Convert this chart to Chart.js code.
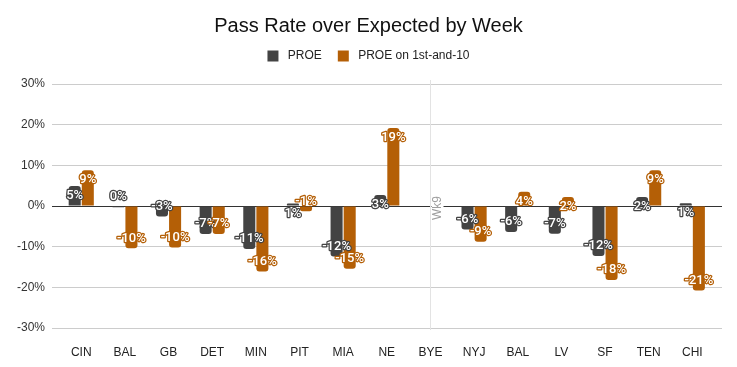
<!DOCTYPE html>
<html>
<head>
<meta charset="utf-8">
<script src="https://cdn.jsdelivr.net/npm/chart.js@4/dist/chart.umd.min.js"></script>
<style>
  html, body { margin: 0; padding: 0; background: #fff; }
  #wrap { width: 737px; height: 367px; }
</style>
</head>
<body>
<div id="wrap"><canvas id="chartProe"></canvas></div>
<script>
// weeks (opponent), BYE has no values
var weeks = ['CIN', 'BAL', 'GB', 'DET', 'MIN', 'PIT', 'MIA', 'NE', 'BYE', 'NYJ', 'BAL', 'LV', 'SF', 'TEN', 'CHI'];
var proe = [4.9, -0.3, -2.6, -6.9, -10.6, 0.6, -12.4, 2.7, null, -5.8, -6.4, -6.8, -12.3, 2.2, 0.7];
var proeFirstTen = [8.8, -10.4, -10.2, -6.9, -16.1, -1.3, -15.4, 19.2, null, -8.8, 3.5, 2.2, -18.2, 8.8, -20.8];
var yTicks = [-30, -20, -10, 0, 10, 20, 30];
var byeIndex = 8;
var byeText = 'Wk9';

var darkColor = '#434343';
var orangeColor = '#b45f06';
var font = '"Liberation Sans", Arial, sans-serif';

function points(arr) {
    return arr.map(function(v, i) { return { x: i, y: v }; });
}

// value labels drawn at the inner end of each bar
var barLabels = {
    id: 'barLabels',
    afterDatasetsDraw: function(chart) {
        var ctx = chart.ctx;
        ctx.save();
        ctx.font = '500 13px Roboto, sans-serif';
        ctx.textAlign = 'center';
        ctx.textBaseline = 'middle';
        ctx.lineJoin = 'round';
        chart.data.datasets.forEach(function(ds, di) {
            var meta = chart.getDatasetMeta(di);
            meta.data.forEach(function(bar, i) {
                var v = ds.data[i].y;
                if (v === null) return;
                var txt = Math.round(v) + '%';
                var y = v >= 0 ? bar.y + 10 : bar.y - 10;
                ctx.lineWidth = 2.5;
                ctx.strokeStyle = ds.backgroundColor;
                ctx.strokeText(txt, bar.x, y);
                ctx.fillStyle = '#ffffff';
                ctx.fillText(txt, bar.x, y);
            });
        });
        ctx.restore();
    }
};

// bye week marker line with rotated text
var byeMarker = {
    id: 'byeMarker',
    beforeDatasetsDraw: function(chart) {
        var ctx = chart.ctx;
        var x = Math.round(chart.scales.x.getPixelForValue(byeIndex)) + 0.5;
        var y0 = chart.scales.y.getPixelForValue(0);
        ctx.save();
        ctx.strokeStyle = '#e3e3e3';
        ctx.lineWidth = 1;
        ctx.beginPath();
        ctx.moveTo(x, chart.chartArea.top - 4);
        ctx.lineTo(x, chart.chartArea.bottom + 2);
        ctx.stroke();
        ctx.translate(x + 7, y0 + 2);
        ctx.rotate(-Math.PI / 2);
        ctx.font = '12px ' + font;
        var w = ctx.measureText(byeText).width;
        ctx.fillStyle = '#ffffff';
        ctx.fillRect(-w / 2 - 2, -6, w + 4, 12);
        ctx.fillStyle = '#9e9e9e';
        ctx.textAlign = 'center';
        ctx.textBaseline = 'middle';
        ctx.fillText(byeText, 0, 0);
        ctx.restore();
    }
};

// extra room under the legend
var legendGap = {
    id: 'legendGap',
    beforeInit: function(chart) {
        var fit = chart.legend.fit;
        chart.legend.fit = function() {
            fit.bind(chart.legend)();
            this.height += 12;
        };
    }
};

function chartProe() {
    var ctx = document.querySelector('#chartProe').getContext('2d');
    var chart = new Chart(ctx, {
        type: 'bar',
        data: {
            datasets: [{
                label: 'PROE',
                backgroundColor: darkColor,
                data: points(proe),
                borderRadius: 3,
                barPercentage: 0.92,
                categoryPercentage: 0.6
            }, {
                label: 'PROE on 1st-and-10',
                backgroundColor: orangeColor,
                data: points(proeFirstTen),
                borderRadius: 3,
                barPercentage: 0.92,
                categoryPercentage: 0.6
            }]
        },
        options: {
            responsive: true,
            maintainAspectRatio: false,
            animation: false,
            layout: { padding: 0 },
            plugins: {
                title: {
                    display: true,
                    text: 'Pass Rate over Expected by Week',
                    color: '#111',
                    font: { family: font, size: 20, weight: 'normal' },
                    padding: { top: 14, bottom: -4 }
                },
                legend: {
                    display: true,
                    labels: {
                        color: '#222',
                        font: { family: font, size: 12 },
                        boxWidth: 11,
                        boxHeight: 11,
                        padding: 16,
                        generateLabels: function(chart) {
                            var items = Chart.defaults.plugins.legend.labels.generateLabels(chart);
                            items.forEach(function(it) { it.text = ' ' + it.text; });
                            return items;
                        }
                    }
                },
                tooltip: { enabled: false }
            },
            scales: {
                x: {
                    type: 'linear',
                    min: -0.67,
                    max: 14.68,
                    offset: false,
                    grid: { display: false },
                    border: { display: false },
                    afterBuildTicks: function(scale) {
                        scale.ticks = weeks.map(function(w, i) { return { value: i }; });
                    },
                    afterFit: function(scale) { scale.height = 39; },
                    ticks: {
                        autoSkip: false,
                        maxRotation: 0,
                        padding: 9,
                        color: '#222',
                        font: { family: font, size: 12 },
                        callback: function(v) { return weeks[v]; }
                    }
                },
                y: {
                    min: -30,
                    max: 30,
                    border: { display: false },
                    afterBuildTicks: function(scale) {
                        scale.ticks = yTicks.map(function(v) { return { value: v }; });
                    },
                    afterFit: function(scale) { scale.width = 52; },
                    grid: {
                        drawTicks: false,
                        color: function(c) { return c.tick && c.tick.value === 0 ? '#333333' : '#cccccc'; }
                    },
                    ticks: {
                        padding: 7,
                        color: '#333',
                        font: { family: font, size: 12 },
                        callback: function(v) { return v + '%'; }
                    }
                },
                // empty right axis, only keeps a margin on the right of the plot
                yRight: {
                    position: 'right',
                    grid: { display: false },
                    border: { display: false },
                    ticks: { display: false },
                    afterFit: function(scale) { scale.width = 15; }
                }
            }
        },
        plugins: [byeMarker, barLabels, legendGap]
    });
    return chart;
}
chartProe();
</script>
</body>
</html>
